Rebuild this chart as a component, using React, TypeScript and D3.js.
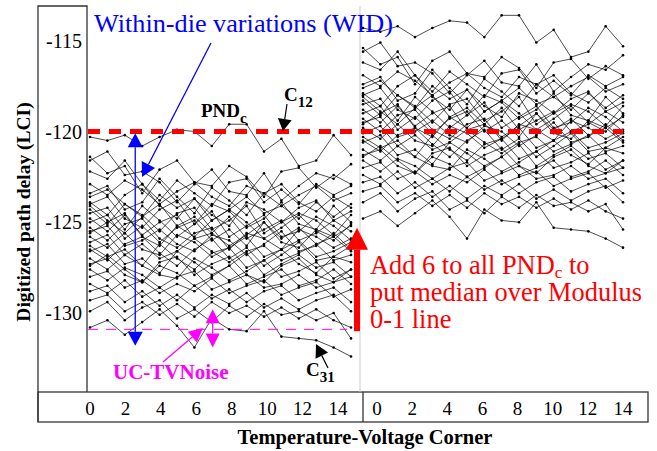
import React, { useEffect, useRef } from "react";
import * as d3 from "d3";

// TV corners (16 per chip) and axis labels
const corners = [0, 1, 2, 3, 4, 5, 6, 7, 8, 9, 10, 11, 12, 13, 14, 15];
const cornerTicks = [0, 2, 4, 6, 8, 10, 12, 14];
const delayTicks = [-115, -120, -125, -130];
const shiftPND = 6; // "Add 6 to all PNDc"

// PNDc per chip (LCI)
const c12 = [-120.3, -120.5, -120.2, -120.8, -120.3, -119.9, -120.0, -120.8, -119.6, -119.6, -121.1, -120.4, -121.9, -121.6, -120.2, -121.3];
const p01 = [-121.4, -122.3, -121.9, -123.4, -122.1, -121.6, -122.8, -123.0, -121.9, -122.5, -123.6, -122.2, -122.0, -123.1, -122.4, -122.9];
const p02 = [-121.6, -121.1, -122.4, -122.2, -122.8, -123.9, -122.9, -122.1, -123.3, -123.5, -122.3, -123.8, -123.0, -122.3, -122.6, -121.8];
const p03 = [-122.2, -122.6, -121.6, -122.9, -123.8, -122.7, -123.4, -124.1, -122.8, -122.6, -123.9, -123.2, -124.0, -122.9, -123.5, -123.0];
const p04 = [-123.4, -123.0, -124.3, -123.9, -122.6, -123.6, -124.5, -123.1, -123.8, -124.6, -123.4, -122.9, -123.9, -124.4, -123.6, -124.2];
const p05 = [-123.9, -124.6, -123.5, -122.9, -124.1, -124.8, -123.7, -124.6, -125.2, -123.9, -124.3, -125.0, -124.2, -123.8, -124.9, -124.4];
const p06 = [-124.0, -123.6, -124.8, -125.3, -124.3, -123.8, -125.1, -124.0, -124.4, -125.3, -124.8, -123.9, -125.1, -125.4, -124.1, -125.0];
const p07 = [-124.3, -125.1, -124.0, -124.6, -125.5, -124.5, -124.2, -125.4, -124.9, -124.1, -125.6, -125.0, -124.5, -124.9, -125.7, -124.6];
const p08 = [-124.5, -124.2, -125.4, -124.1, -124.9, -125.8, -125.1, -124.4, -125.8, -125.2, -124.6, -125.8, -125.5, -124.7, -125.2, -126.0];
const p09 = [-124.8, -125.5, -124.6, -125.7, -125.0, -124.6, -125.9, -125.6, -124.7, -125.9, -125.4, -124.9, -126.0, -125.6, -124.9, -125.5];
const p10 = [-125.0, -124.6, -125.9, -125.2, -126.1, -125.3, -124.9, -126.0, -125.4, -126.3, -125.0, -125.9, -125.3, -126.2, -125.8, -125.2];
const p11 = [-125.3, -126.0, -125.1, -124.8, -125.9, -126.4, -125.6, -125.3, -126.5, -125.6, -125.9, -126.5, -125.4, -125.8, -126.4, -125.9];
const p12 = [-125.5, -125.2, -126.3, -126.0, -125.4, -126.2, -126.6, -125.7, -126.0, -126.8, -126.2, -125.5, -126.6, -126.3, -125.6, -126.5];
const p13 = [-125.8, -126.4, -125.6, -126.5, -126.8, -125.7, -126.1, -126.9, -126.4, -125.8, -126.9, -126.5, -126.0, -126.9, -126.6, -126.1];
const p14 = [-126.1, -125.7, -126.8, -126.2, -127.0, -126.6, -125.9, -126.6, -127.2, -126.6, -126.3, -127.1, -126.7, -126.2, -127.1, -126.8];
const p15 = [-126.3, -126.9, -126.5, -127.4, -126.2, -127.0, -127.6, -126.7, -126.4, -127.5, -127.1, -126.5, -127.3, -127.8, -126.9, -127.2];
const p16 = [-126.6, -126.2, -127.3, -127.0, -127.8, -126.6, -127.2, -127.9, -127.4, -126.7, -127.9, -127.3, -126.8, -127.5, -127.2, -128.0];
const p17 = [-127.0, -127.6, -126.8, -127.4, -127.9, -128.1, -127.0, -127.5, -128.2, -127.7, -127.1, -128.0, -127.7, -127.2, -128.1, -127.6];
const p18 = [-127.3, -127.0, -127.9, -128.3, -127.4, -127.8, -128.5, -128.0, -127.4, -128.4, -128.0, -127.6, -128.5, -128.2, -127.6, -128.4];
const p19 = [-127.6, -128.2, -127.5, -127.9, -128.6, -128.0, -127.7, -128.7, -128.3, -127.9, -128.6, -128.4, -127.9, -128.6, -128.3, -128.0];
const p20 = [-128.0, -127.7, -128.6, -128.2, -128.9, -128.4, -128.8, -128.1, -128.9, -128.5, -128.2, -129.0, -128.6, -128.3, -129.1, -128.7];
const p21 = [-128.4, -128.9, -128.2, -129.1, -128.6, -129.3, -128.5, -129.2, -128.7, -129.4, -128.8, -128.5, -129.3, -128.9, -128.6, -129.4];
const p22 = [-128.8, -128.5, -129.4, -128.8, -129.6, -129.0, -129.7, -129.0, -129.5, -128.9, -129.7, -129.2, -129.8, -129.3, -129.0, -129.9];
const p23 = [-129.3, -129.0, -129.9, -129.4, -130.1, -129.5, -130.2, -129.4, -130.0, -129.6, -130.2, -129.7, -130.3, -129.8, -130.4, -130.8];
const p24 = [-129.9, -129.4, -130.4, -129.7, -129.3, -130.3, -129.8, -130.5, -129.6, -130.2, -129.5, -130.1, -129.9, -130.4, -130.0, -131.4];
const p25 = [-124.1, -124.9, -125.6, -124.7, -124.0, -125.2, -125.8, -124.9, -124.3, -125.0, -125.9, -125.3, -124.6, -125.5, -126.0, -125.1];
const p26 = [-125.6, -125.0, -124.5, -125.8, -126.3, -125.2, -124.7, -125.6, -126.3, -125.7, -125.0, -126.1, -126.4, -125.4, -125.8, -126.6];
const p27 = [-126.5, -127.1, -126.2, -125.8, -126.7, -127.4, -126.5, -125.9, -127.0, -126.4, -127.4, -126.8, -126.1, -127.1, -126.9, -126.3];
const p28 = [-123.6, -123.2, -124.0, -124.7, -123.5, -124.2, -123.7, -124.9, -124.3, -123.6, -124.5, -124.1, -124.8, -123.9, -124.7, -124.0];
const p29 = [-127.4, -126.8, -127.6, -128.3, -127.2, -126.9, -127.9, -127.3, -126.9, -127.9, -128.3, -127.4, -127.0, -127.9, -128.3, -127.6];
const p30 = [-122.9, -123.5, -122.7, -123.2, -124.0, -123.3, -122.8, -123.6, -124.1, -123.0, -123.4, -124.1, -123.5, -123.0, -123.8, -123.4];
const c31 = [-130.8, -130.4, -131.2, -130.5, -129.8, -130.7, -131.9, -130.3, -130.9, -131.0, -129.9, -131.3, -131.4, -131.5, -131.9, -132.4];

const chips = [c12, p01, p02, p03, p04, p05, p06, p07, p08, p09, p10, p11, p12, p13, p14, p15,
  p16, p17, p18, p19, p20, p21, p22, p23, p24, p25, p26, p27, p28, p29, p30, c31];

const modulusLine = -120;
const noiseFloor = -130.9;

const serif = "'Liberation Serif', 'Times New Roman', serif";

// little filled arrowhead at (x2,y2), shaft coming from (x1,y1)
const arrow = (x1, y1, x2, y2, len, w) => {
  const a = Math.atan2(y2 - y1, x2 - x1);
  const bx = x2 - len * Math.cos(a);
  const by = y2 - len * Math.sin(a);
  const px = (-Math.sin(a) * w) / 2;
  const py = (Math.cos(a) * w) / 2;
  return {
    shaft: `M${x1},${y1}L${bx},${by}`,
    head: `M${x2},${y2}L${bx + px},${by + py}L${bx - px},${by - py}Z`,
  };
};

const App = () => {
  const svgRef = useRef(null);

  useEffect(() => {
    document.body.style.margin = "0";
    const svg = d3.select(svgRef.current);
    svg.selectAll("*").remove();

    const xL = d3.scaleLinear().domain([0, 15]).range([90, 351]);
    const xR = d3.scaleLinear().domain([0, 15]).range([363, 623]);
    const tickL = d3.scaleLinear().domain([0, 14]).range([90, 338]);
    const tickR = d3.scaleLinear().domain([0, 14]).range([377, 623]);
    const y = d3.scaleLinear().domain([-130, -120]).range([313, 131.5]);

    // frame
    const frame = svg.append("g").attr("stroke", "#333").attr("stroke-width", 1.3).attr("fill", "none");
    frame.append("path").attr("d", "M38,422V6H87V392");
    frame.append("rect").attr("x", 38).attr("y", 392).attr("width", 610).attr("height", 30);
    frame.append("line").attr("x1", 363).attr("x2", 363).attr("y1", 392).attr("y2", 422);
    svg.append("line").attr("x1", 360).attr("x2", 360).attr("y1", 6).attr("y2", 392)
      .attr("stroke", "#ccc").attr("stroke-width", 1);

    // y ticks
    svg.append("g").selectAll("text").data(delayTicks).join("text")
      .attr("x", 82).attr("y", (d) => y(d)).attr("text-anchor", "end")
      .attr("dominant-baseline", "central")
      .style("font-family", serif).style("font-size", "20px")
      .text((d) => String(d));

    // x ticks
    const xt = svg.append("g").style("font-family", serif).style("font-size", "19px").attr("text-anchor", "middle");
    xt.selectAll(".l").data(cornerTicks).join("text").attr("class", "l")
      .attr("x", (d) => tickL(d)).attr("y", 415).text((d) => d);
    xt.selectAll(".r").data(cornerTicks).join("text").attr("class", "r")
      .attr("x", (d) => tickR(d)).attr("y", 415).text((d) => d);

    svg.append("text").attr("x", 365).attr("y", 444).attr("text-anchor", "middle")
      .style("font-family", serif).style("font-size", "20.5px").style("font-weight", "bold")
      .text("Temperature-Voltage Corner");
    svg.append("text").attr("transform", "translate(23,212) rotate(-90)").attr("text-anchor", "middle")
      .attr("dominant-baseline", "central")
      .style("font-family", serif).style("font-size", "19.5px").style("font-weight", "bold")
      .text("Digitized path delay (LCI)");

    // the curves, before and after the shift
    const panels = [
      { x: xL, off: 0 },
      { x: xR, off: shiftPND },
    ];
    panels.forEach(({ x, off }) => {
      const line = d3.line().x((d, i) => x(corners[i])).y((d) => y(d + off));
      const g = svg.append("g");
      g.selectAll("path").data(chips).join("path")
        .attr("d", (d) => line(d))
        .attr("fill", "none").attr("stroke", "#000").attr("stroke-width", 0.7);
      g.selectAll("g").data(chips).join("g").selectAll("circle")
        .data((d) => d).join("circle")
        .attr("cx", (d, i) => x(corners[i])).attr("cy", (d) => y(d + off))
        .attr("r", 1.3).attr("fill", "#000");
    });

    // modulus line and noise floor
    svg.append("line").attr("x1", 88).attr("x2", 623).attr("y1", y(modulusLine)).attr("y2", y(modulusLine))
      .attr("stroke", "#ff0000").attr("stroke-width", 5).attr("stroke-dasharray", "12 9");
    svg.append("line").attr("x1", 88).attr("x2", 347).attr("y1", y(noiseFloor)).attr("y2", y(noiseFloor))
      .attr("stroke", "#ff00ff").attr("stroke-width", 1).attr("stroke-dasharray", "10 8");

    const drawArrow = (a, color, sw) => {
      svg.append("path").attr("d", a.shaft).attr("stroke", color).attr("stroke-width", sw).attr("fill", "none");
      svg.append("path").attr("d", a.head).attr("fill", color);
    };

    // WID span
    const wx = xL(2.6);
    const wTop = y(-120.1);
    const wBot = y(-131.8);
    drawArrow(arrow(wx, (wTop + wBot) / 2, wx, wTop, 14, 15), "#0000ff", 1.3);
    drawArrow(arrow(wx, (wTop + wBot) / 2, wx, wBot, 14, 15), "#0000ff", 1.3);
    drawArrow(arrow(211, 43, 142, 177, 14, 15), "#0000ff", 1.3);

    // UC-TVNoise span
    const nx = xL(7.05);
    const nTop = y(-129.8);
    const nBot = y(-131.9);
    drawArrow(arrow(nx, (nTop + nBot) / 2, nx, nTop, 14, 14), "#ff00ff", 1.3);
    drawArrow(arrow(nx, (nTop + nBot) / 2, nx, nBot, 14, 14), "#ff00ff", 1.3);
    drawArrow(arrow(163, 362, 203, 328, 14, 14), "#ff00ff", 1.3);

    // pointers to C12 and C31
    drawArrow(arrow(287, 104, 283, 131, 12, 14), "#000", 1.2);
    drawArrow(arrow(328, 368, 316, 344, 13, 14), "#000", 1.2);

    // shift arrow
    drawArrow(arrow(357, y(-131.0), 357, y(-125.3), 22, 22), "#ff0000", 6);

    // labels
    svg.append("text").attr("x", 94).attr("y", 32).attr("fill", "#0000ff")
      .attr("textLength", 299).attr("lengthAdjust", "spacingAndGlyphs")
      .style("font-family", serif).style("font-size", "26px").text("Within-die variations (WID)");

    const bold = (x0, y0, main, sub, color) => {
      const t = svg.append("text").attr("x", x0).attr("y", y0).attr("fill", color)
        .style("font-family", serif).style("font-size", "19px").style("font-weight", "bold");
      t.append("tspan").text(main);
      t.append("tspan").attr("dy", 6).style("font-size", "15px").text(sub);
    };
    bold(201, 117, "PND", "c", "#000");
    bold(284, 101, "C", "12", "#000");
    bold(306, 376, "C", "31", "#000");

    svg.append("text").attr("x", 113).attr("y", 379).attr("fill", "#ff00ff")
      .style("font-family", serif).style("font-size", "21px").style("font-weight", "bold")
      .text("UC-TVNoise");

    const red = svg.append("g").attr("fill", "#ff0000").style("font-family", serif).style("font-size", "26.4px");
    const l1 = red.append("text").attr("x", 370).attr("y", 274);
    l1.append("tspan").text("Add 6 to all PND");
    l1.append("tspan").attr("dy", 4).style("font-size", "17px").text("c");
    l1.append("tspan").attr("dy", -4).text(" to");
    red.append("text").attr("x", 370).attr("y", 301).text("put median over Modulus");
    red.append("text").attr("x", 370).attr("y", 328).text("0-1 line");
  }, []);

  return (
    <div>
      <svg ref={svgRef} width={657} height={451} style={{ display: "block", background: "#fff" }}></svg>
    </div>
  );
};

export default App;
